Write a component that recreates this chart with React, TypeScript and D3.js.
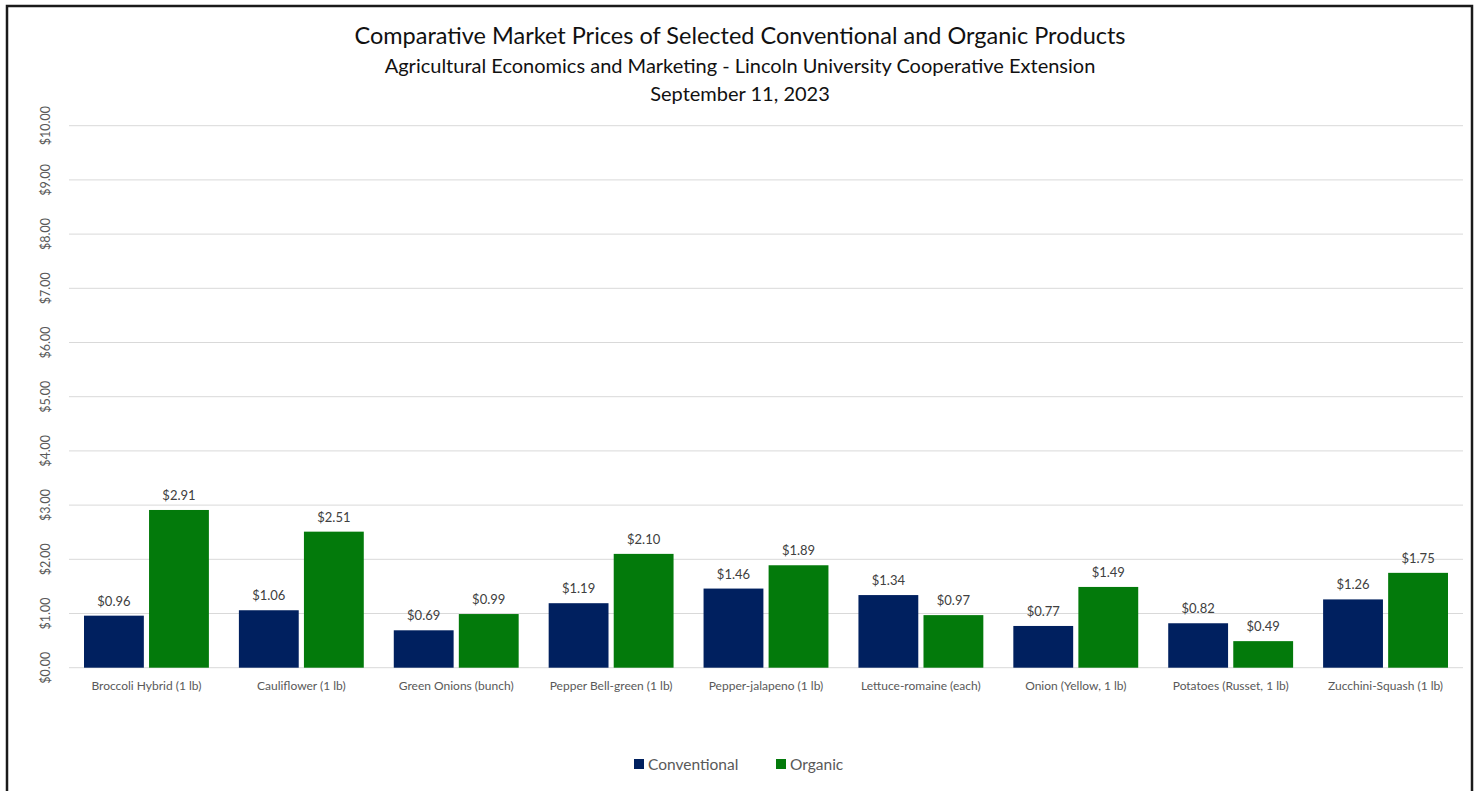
import { useEffect, useRef } from "react";
import * as d3 from "d3";

const categories = [
  "Broccoli Hybrid (1 lb)",
  "Cauliflower (1 lb)",
  "Green Onions (bunch)",
  "Pepper Bell-green (1 lb)",
  "Pepper-jalapeno (1 lb)",
  "Lettuce-romaine (each)",
  "Onion (Yellow, 1 lb)",
  "Potatoes (Russet, 1 lb)",
  "Zucchini-Squash (1 lb)",
];
const seriesNames = ["Conventional", "Organic"];
const conventional = [0.96, 1.06, 0.69, 1.19, 1.46, 1.34, 0.77, 0.82, 1.26];
const organic = [2.91, 2.51, 0.99, 2.1, 1.89, 0.97, 1.49, 0.49, 1.75];
const yTicks = [0, 1, 2, 3, 4, 5, 6, 7, 8, 9, 10];
const titleLines = [
  "Comparative Market Prices of Selected Conventional and Organic Products",
  "Agricultural Economics and Marketing - Lincoln University Cooperative Extension",
  "September 11, 2023",
];

const colors = ["#00205f", "#037a0b"];
const FONT = "Lato, 'Open Sans', sans-serif";

const Chart = () => {
  const chartRef = useRef<SVGSVGElement>(null);

  useEffect(() => {
    const width = 1478;
    const height = 791;
    const left = 69;
    const right = 1463;
    const top = 125.7;
    const bottom = 667.7;

    const svg = d3.select(chartRef.current);
    svg.selectAll("*").remove();

    svg.append("rect").attr("width", width).attr("height", height).attr("fill", "#fff");

    // outer frame
    svg
      .append("rect")
      .attr("x", 7)
      .attr("y", 6)
      .attr("width", 1465)
      .attr("height", 820)
      .attr("fill", "none")
      .attr("stroke", "#1a1a1a")
      .attr("stroke-width", 2.5);

    const x0 = d3.scaleBand().domain(categories).range([left, right]).paddingInner(0).paddingOuter(0);
    const x1 = d3
      .scaleBand()
      .domain(seriesNames)
      .range([15, x0.bandwidth() - 15])
      .paddingInner(0.08);
    const y = d3.scaleLinear().domain([0, 10]).range([bottom, top]);

    // titles
    const titleSizes = [23.5, 20, 20];
    const titleY = [44, 73, 101];
    titleLines.forEach((t, i) => {
      svg
        .append("text")
        .attr("x", 740)
        .attr("y", titleY[i])
        .attr("text-anchor", "middle")
        .attr("font-family", FONT)
        .attr("font-size", titleSizes[i])
        .attr("fill", "#111")
        .text(t);
    });

    // grid
    svg
      .append("g")
      .selectAll("line")
      .data(yTicks)
      .join("line")
      .attr("x1", left)
      .attr("x2", right)
      .attr("y1", (d) => y(d))
      .attr("y2", (d) => y(d))
      .attr("stroke", "#d9d9d9")
      .attr("stroke-width", 1);

    // y labels, rotated
    svg
      .append("g")
      .selectAll("text")
      .data(yTicks)
      .join("text")
      .attr("transform", (d) => `translate(50,${y(d)}) rotate(-90)`)
      .attr("text-anchor", "middle")
      .attr("font-family", FONT)
      .attr("font-size", 12.5)
      .attr("fill", "#595959")
      .text((d) => d3.format("$.2f")(d));

    const rows = categories.map((c, i) => ({ c, vals: [conventional[i], organic[i]] }));

    const groups = svg
      .append("g")
      .selectAll("g")
      .data(rows)
      .join("g")
      .attr("transform", (d) => `translate(${x0(d.c)},0)`);

    groups
      .selectAll("rect")
      .data((d) => d.vals.map((v, k) => ({ k, v })))
      .join("rect")
      .attr("x", (d) => x1(seriesNames[d.k])!)
      .attr("width", x1.bandwidth())
      .attr("y", (d) => y(d.v))
      .attr("height", (d) => bottom - y(d.v))
      .attr("fill", (d) => colors[d.k]);

    groups
      .selectAll("text.val")
      .data((d) => d.vals.map((v, k) => ({ k, v })))
      .join("text")
      .attr("class", "val")
      .attr("x", (d) => x1(seriesNames[d.k])! + x1.bandwidth() / 2)
      .attr("y", (d) => y(d.v) - 10)
      .attr("text-anchor", "middle")
      .attr("font-family", FONT)
      .attr("font-size", 13)
      .attr("fill", "#404040")
      .text((d) => d3.format("$.2f")(d.v));

    groups
      .append("text")
      .attr("x", x0.bandwidth() / 2)
      .attr("y", bottom + 22)
      .attr("text-anchor", "middle")
      .attr("font-family", FONT)
      .attr("font-size", 12)
      .attr("fill", "#595959")
      .text((d) => d.c);

    // legend
    const legend = svg.append("g").attr("transform", "translate(634,764)");
    const offsets = [0, 142];
    seriesNames.forEach((s, i) => {
      legend
        .append("rect")
        .attr("x", offsets[i])
        .attr("y", -5)
        .attr("width", 10)
        .attr("height", 10)
        .attr("fill", colors[i]);
      legend
        .append("text")
        .attr("x", offsets[i] + 14)
        .attr("y", 5.5)
        .attr("font-family", FONT)
        .attr("font-size", 15.5)
        .attr("fill", "#595959")
        .text(s);
    });
  }, []);

  return (
    <svg
      ref={chartRef}
      width={1478}
      height={791}
      style={{ position: "absolute", left: 0, top: 0, display: "block" }}
    />
  );
};

export default function App() {
  return <Chart />;
}
